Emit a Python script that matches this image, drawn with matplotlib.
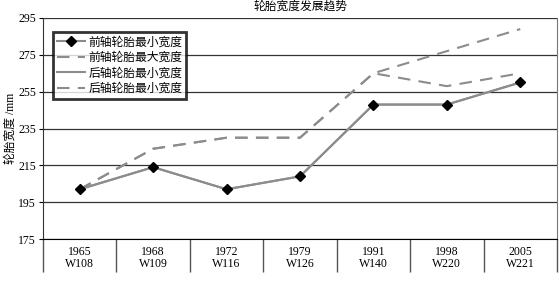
import numpy as np
import matplotlib.pyplot as plt

plt.rcParams['font.family'] = ['Liberation Serif', 'Noto Sans CJK SC']

years = ['1965', '1968', '1972', '1979', '1991', '1998', '2005']
models = ['W108', 'W109', 'W116', 'W126', 'W140', 'W220', 'W221']

front_min = [202, 214, 202, 209, 248, 248, 260]
front_max = [202, 224, 230, 230, 265, 277, 289]
rear_min = [202, 214, 202, 209, 248, 248, 260]
rear_max = [202, 224, 230, 230, 265, 258, 265]

labels = ['前轴轮胎最小宽度', '前轴轮胎最大宽度', '后轴轮胎最小宽度', '后轴轮胎最小宽度']
yticks = [175, 195, 215, 235, 255, 275, 295]

gray = '#8c8c8c'

fig = plt.figure(figsize=(5.59, 2.84), dpi=100)
ax = fig.add_axes([43 / 559, 45 / 284, 514 / 559, 221 / 284])

x = np.arange(len(years))
ax.plot(x, front_min, color=gray, lw=1.5, marker='D', ms=5,
        mfc='black', mec='black', label=labels[0], zorder=4)
ax.plot(x, front_max, color=gray, lw=1.5, ls=(0, (6, 4)), label=labels[1], zorder=3)
ax.plot(x, rear_min, color=gray, lw=1.5, label=labels[2], zorder=3)
ax.plot(x, rear_max, color=gray, lw=1.5, ls=(0, (6, 4)), label=labels[3], zorder=3)

ax.set_xlim(-0.5, len(years) - 0.5)
ax.set_ylim(175, 295)
ax.set_yticks(yticks)
ax.yaxis.grid(True, color='#333333', lw=0.9)
ax.set_axisbelow(True)
ax.tick_params(axis='y', direction='out', length=3, labelsize=8.5, pad=2)

ax.set_xticks(x)
ax.set_xticklabels([y + '\n' + m for y, m in zip(years, models)], fontsize=8.5,
                   linespacing=1.05)
ax.tick_params(axis='x', which='major', length=0, pad=5)
ax.set_xticks(np.arange(-0.5, len(years)), minor=True)
ax.tick_params(axis='x', which='minor', direction='out', length=24, width=1,
               color='#555555')

ax.spines['top'].set_visible(False)
ax.spines['right'].set_color('#777777')
ax.spines['left'].set_color('#333333')
ax.spines['bottom'].set_color('black')

ax.set_ylabel('轮胎宽度 /mm', fontsize=8.5, labelpad=1)
ax.set_title('轮胎宽度发展趋势', fontsize=8.5, pad=6)

leg = ax.legend(loc='upper left', bbox_to_anchor=(0.02, 0.935), borderaxespad=0,
                fontsize=8.5, frameon=True, fancybox=False, handlelength=2.3,
                handletextpad=0.3, labelspacing=0.3, borderpad=0.35)
leg.get_frame().set_edgecolor('black')
leg.get_frame().set_linewidth(2)

fig.savefig('out.png', dpi=100)
